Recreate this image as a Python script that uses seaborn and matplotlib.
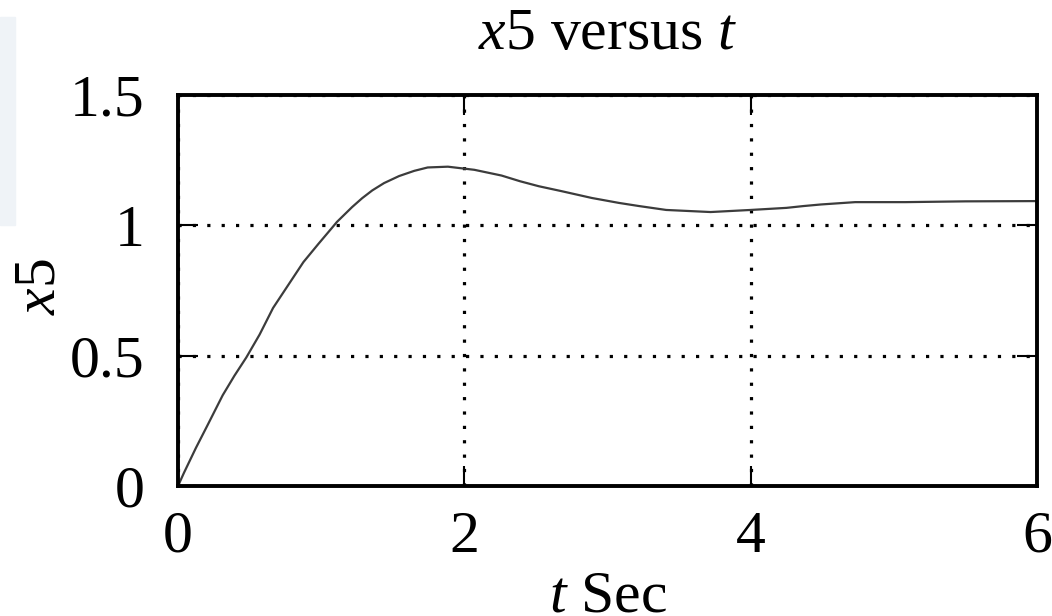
import matplotlib
matplotlib.use("Agg")
import matplotlib.pyplot as plt
from matplotlib.patches import Rectangle
import seaborn as sns
import pandas as pd

# ---- data ----
t_values = [0, 0.042, 0.125, 0.207, 0.312, 0.394, 0.477, 0.570, 0.664, 0.770,
            0.876, 0.981, 1.075, 1.11, 1.216, 1.286, 1.357, 1.439, 1.544, 1.65,
            1.744, 1.885, 2.07, 2.26, 2.39, 2.52, 2.68, 2.89, 3.08, 3.22, 3.41,
            3.72, 4.0, 4.25, 4.37, 4.49, 4.73, 5.08, 5.5, 6.0]
x5_values = [0, 0.051, 0.146, 0.234, 0.348, 0.423, 0.493, 0.581, 0.683, 0.771,
             0.859, 0.929, 0.990, 1.013, 1.070, 1.104, 1.134, 1.162, 1.189, 1.209,
             1.222, 1.225, 1.213, 1.191, 1.169, 1.150, 1.131, 1.105, 1.086, 1.074,
             1.059, 1.051, 1.059, 1.067, 1.074, 1.080, 1.089, 1.089, 1.092, 1.093]
x_ticks = [0, 2, 4, 6]
y_ticks = [0, 0.5, 1, 1.5]
y_tick_labels = ["0", "0.5", "1", "1.5"]

sns.set_style("white")
plt.rcParams["font.family"] = ["Liberation Serif", "DejaVu Serif"]
plt.rcParams["mathtext.fontset"] = "custom"
plt.rcParams["mathtext.rm"] = "Liberation Serif"
plt.rcParams["mathtext.it"] = "Liberation Serif:italic"
plt.rcParams["text.color"] = "black"
plt.rcParams["axes.labelcolor"] = "black"
plt.rcParams["xtick.color"] = "black"
plt.rcParams["ytick.color"] = "black"

df = pd.DataFrame({"t": t_values, "x5": x5_values})

fig = plt.figure(figsize=(10.52, 6.16), dpi=100)
fig.patches.append(Rectangle((0, 1 - 225 / 616), 15 / 1052, 208 / 616,
                             transform=fig.transFigure, color="#eff3f7", zorder=0))
ax = fig.add_axes([178 / 1052, 1 - 486 / 616, (1037 - 178) / 1052, (486 - 95) / 616])

sns.lineplot(data=df, x="t", y="x5", ax=ax, color="#3c3c3c", linewidth=1.6)

ax.set_xlim(0, 6)
ax.set_ylim(0, 1.5)
ax.set_xticks(x_ticks)
ax.set_xticklabels([str(v) for v in x_ticks])
ax.set_yticks(y_ticks)
ax.set_yticklabels(y_tick_labels)

fs = 43
ax.tick_params(axis="both", direction="in", length=14.5, width=1.5,
               top=True, right=True, bottom=True, left=True,
               labelsize=fs, colors="black", labelcolor="black")
ax.tick_params(axis="x", pad=18)
ax.tick_params(axis="y", pad=24)

ax.grid(True, color="black", linestyle=(0, (1, 3.5)), linewidth=2.3,
        dash_capstyle="butt")
for s in ax.spines.values():
    s.set_visible(True)
    s.set_color("black")
    s.set_linewidth(2.8)

ax.set_title(r"$x$5 versus $t$", fontsize=fs, pad=33, color="black")
ax.set_xlabel(r"$t$ Sec", fontsize=fs, color="black")
ax.set_ylabel(r"$x$5", fontsize=fs, color="black")
ax.xaxis.set_label_coords(0.501, -0.215)
ax.yaxis.set_label_coords(-0.129, 0.511)

fig.savefig("out.png", dpi=100)
